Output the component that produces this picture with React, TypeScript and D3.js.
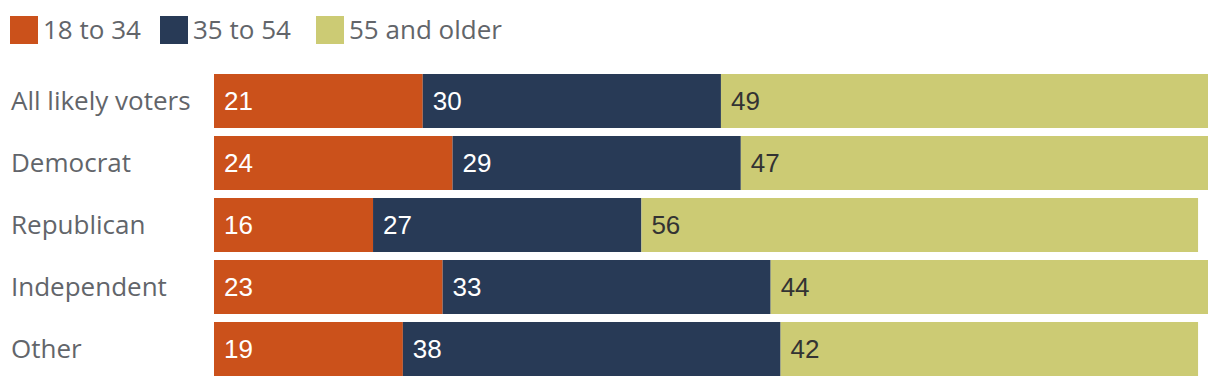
import {useEffect, useRef} from 'react';
import * as d3 from 'd3';

const [W, H] = [1220, 386];

const categories = ['All likely voters', 'Democrat', 'Republican', 'Independent', 'Other'];
const seriesNames = ['18 to 34', '35 to 54', '55 and older'];
const age18to34 = [21, 24, 16, 23, 19];
const age35to54 = [30, 29, 27, 33, 38];
const age55plus = [49, 47, 56, 44, 42];

const colors = ['#cb511b', '#283a56', '#cccb74'];
const labelColors = ['#ffffff', '#ffffff', '#333333'];

function App() {
    const svgRef = useRef<SVGSVGElement>(null);

    useEffect(() => {
        if (!svgRef.current) return;
        const svg = d3.select(svgRef.current);
        svg.selectAll('*').remove();

        const rows = categories.map((c, i) => ({
            category: c,
            '18 to 34': age18to34[i],
            '35 to 54': age35to54[i],
            '55 and older': age55plus[i],
        }));
        const stacked = d3.stack<any>().keys(seriesNames)(rows);

        const x = d3.scaleLinear().domain([0, 100]).range([214, 1208]);
        const y = d3.scaleBand().domain(categories).range([74, 376]).paddingInner(8 / 62).paddingOuter(0);

        // legend
        const legend = svg.append('g');
        const legendX = [10, 160, 316];
        seriesNames.forEach((name, i) => {
            legend.append('rect')
                .attr('x', legendX[i]).attr('y', 16)
                .attr('width', 28).attr('height', 28)
                .attr('fill', colors[i]);
            legend.append('text')
                .attr('x', legendX[i] + 33).attr('y', 30)
                .attr('dy', '0.36em')
                .style('font-family', '"Open Sans", sans-serif')
                .style('font-size', '26px')
                .style('fill', '#62656a')
                .text(name);
        });

        // category labels
        svg.append('g').selectAll('text').data(categories).enter().append('text')
            .attr('x', 11)
            .attr('y', d => (y(d) as number) + y.bandwidth() / 2)
            .attr('dy', '0.36em')
            .style('font-family', '"Open Sans", sans-serif')
            .style('font-size', '26px')
            .style('fill', '#62656a')
            .text(d => d);

        // bars
        const layers = svg.append('g').selectAll('g').data(stacked).enter().append('g')
            .attr('fill', (d, i) => colors[i]);

        layers.selectAll('rect').data(d => d).enter().append('rect')
            .attr('x', d => x(d[0]))
            .attr('y', d => y(d.data.category) as number)
            .attr('width', d => x(d[1]) - x(d[0]))
            .attr('height', y.bandwidth());

        layers.each(function (layer, i) {
            d3.select(this).selectAll('text').data(layer).enter().append('text')
                .attr('x', d => x(d[0]) + 10)
                .attr('y', d => (y(d.data.category) as number) + y.bandwidth() / 2)
                .attr('dy', '0.33em')
                .style('font-family', '"Liberation Sans", Arial, sans-serif')
                .style('font-size', '26px')
                .style('fill', labelColors[i])
                .text(d => d[1] - d[0]);
        });
    }, []);

    return (
        <svg ref={svgRef} width={W} height={H} style={{position: 'absolute', left: 0, top: 0}} />
    );
}

export default App;
